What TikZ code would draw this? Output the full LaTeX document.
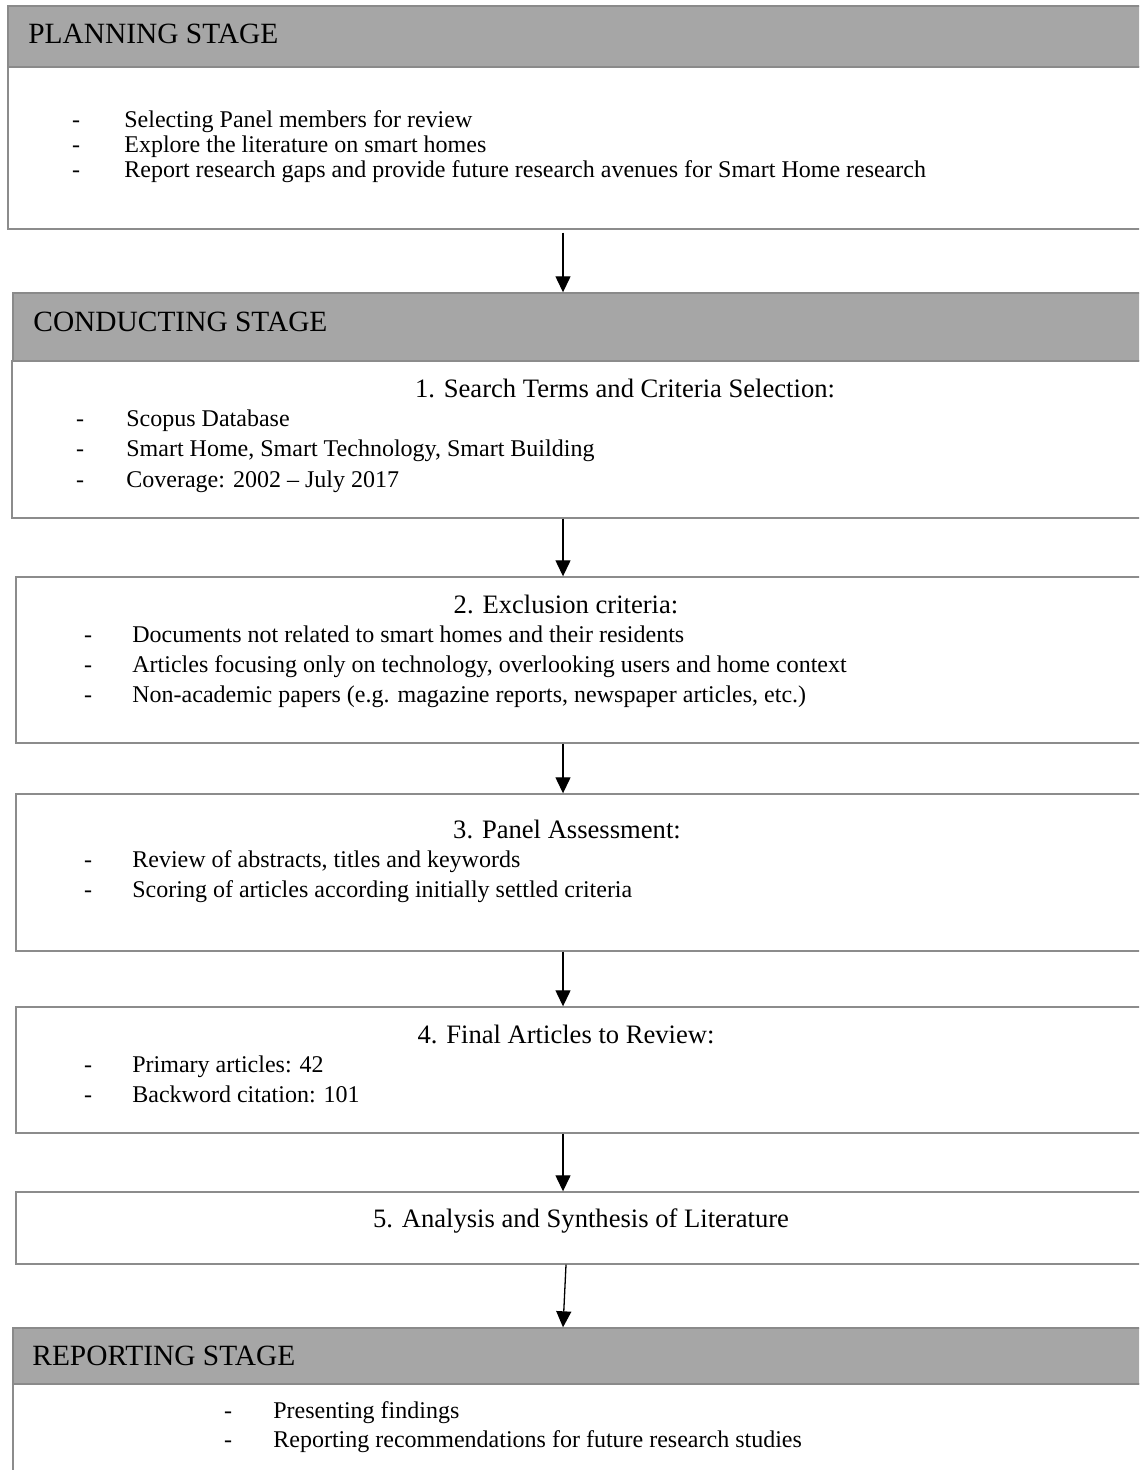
\documentclass[tikz,border=0pt]{standalone}
\usepackage{fontspec}
\setmainfont{Liberation Serif}
\usetikzlibrary{fit,arrows.meta}
\definecolor{boxgray}{HTML}{8C8C8C}
\definecolor{headline}{HTML}{8A8A8A}
\definecolor{headfill}{HTML}{A6A6A6}
\begin{document}
\begin{tikzpicture}[x=0.5pt,y=-0.5pt,
  frame/.style={draw=boxgray, line width=0.7pt, inner sep=0pt, fill=white},
  headbar/.style={draw=headline, fill=headfill, line width=0.7pt, inner sep=0pt},
  headtxt/.style={font=\fontsize{14.7}{17}\selectfont, anchor=base west, inner sep=0pt},
  title/.style={font=\fontsize{13.3}{16}\selectfont, anchor=base, inner sep=0pt},
  item/.style={font=\fontsize{12}{14}\selectfont, anchor=base west, inner sep=0pt},
  bullet/.style={font=\fontsize{12}{14}\selectfont, anchor=base, inner sep=0pt},
  flow/.style={-{Triangle[width=7.5pt,length=8pt]}, line width=0.65pt, black}]
\useasboundingbox (0,0) rectangle (1139,1470);
\clip (0,0) rectangle (1139,1470);

% ---------- planning stage ----------
\node[frame, fit={(8,67) (1160,229)}] (plan) {};
\node[headbar, fit={(8,6) (1160,67)}] (planh) {};
\node[headtxt] (planT) at (28,44) {PLANNING STAGE};
\node[bullet] (pd1) at (76,128) {-};
\node[bullet] (pd2) at (76,153) {-};
\node[bullet] (pd3) at (76,178) {-};
\node[item] (pi1) at (124,128) {Selecting Panel members for review};
\node[item] (pi2) at (124,153) {Explore the literature on smart homes};
\node[item] (pi3) at (124,178) {Report research gaps and provide future research avenues for Smart Home research};

% ---------- conducting stage ----------
\node[headbar, fit={(13,293) (1160,361)}] (condh) {};
\node[headtxt] (condT) at (33,332) {CONDUCTING STAGE};
\node[frame, fit={(12,361) (1160,518)}] (cond) {};
\node[title] (t1) at (625,398) {1. Search Terms and Criteria Selection:};
\node[bullet] (cd1) at (80,427) {-};
\node[bullet] (cd2) at (80,457) {-};
\node[bullet] (cd3) at (80,487) {-};
\node[item] (ci1) at (126,427) {Scopus Database};
\node[item] (ci2) at (126,457) {Smart Home, Smart Technology, Smart Building};
\node[item] (ci3) at (126,487) {Coverage: 2002 -- July 2017};

% ---------- exclusion ----------
\node[frame, fit={(16,577) (1160,743)}] (excl) {};
\node[title] (t2) at (566,613) {2. Exclusion criteria:};
\node[bullet] (ed1) at (88,642) {-};
\node[bullet] (ed2) at (88,672) {-};
\node[bullet] (ed3) at (88,702) {-};
\node[item] (ei1) at (132,642) {Documents not related to smart homes and their residents};
\node[item] (ei2) at (132,672) {Articles focusing only on technology, overlooking users and home context};
\node[item] (ei3) at (132,702) {Non-academic papers (e.g. magazine reports, newspaper articles, etc.)};

% ---------- panel assessment ----------
\node[frame, fit={(16,794) (1160,951)}] (panel) {};
\node[title] (t3) at (567,838) {3. Panel Assessment:};
\node[bullet] (ad1) at (88,867) {-};
\node[bullet] (ad2) at (88,897) {-};
\node[item] (ai1) at (132,867) {Review of abstracts, titles and keywords};
\node[item] (ai2) at (132,897) {Scoring of articles according initially settled criteria};

% ---------- final articles ----------
\node[frame, fit={(16,1007) (1160,1133)}] (final) {};
\node[title] (t4) at (566,1043) {4. Final Articles to Review:};
\node[bullet] (fd1) at (88,1072) {-};
\node[bullet] (fd2) at (88,1102) {-};
\node[item] (fi1) at (132,1072) {Primary articles: 42};
\node[item] (fi2) at (132,1102) {Backword citation: 101};

% ---------- analysis ----------
\node[frame, fit={(16,1192) (1160,1264)}] (synth) {};
\node[title] (t5) at (581,1227) {5. Analysis and Synthesis of Literature};

% ---------- reporting stage ----------
\node[frame, fit={(13,1384) (1160,1490)}] (rep) {};
\node[headbar, fit={(13,1328) (1160,1384)}] (reph) {};
\node[headtxt] (repT) at (32,1365) {REPORTING STAGE};
\node[bullet] (rd1) at (228,1418) {-};
\node[bullet] (rd2) at (228,1447) {-};
\node[item] (ri1) at (273,1418) {Presenting findings};
\node[item] (ri2) at (273,1447) {Reporting recommendations for future research studies};

% ---------- flow arrows ----------
\coordinate (ax) at (563,0);
\coordinate (bx) at (566,0);
\draw[flow] ([yshift=-1.5pt]plan.south -| ax) -- (condh.north -| ax);
\draw[flow] (cond.south -| ax) -- (excl.north -| ax);
\draw[flow] (excl.south -| ax) -- (panel.north -| ax);
\draw[flow] (panel.south -| ax) -- (final.north -| ax);
\draw[flow] (final.south -| ax) -- (synth.north -| ax);
\draw[flow] (synth.south -| bx) -- (reph.north -| ax);
\end{tikzpicture}
\end{document}
